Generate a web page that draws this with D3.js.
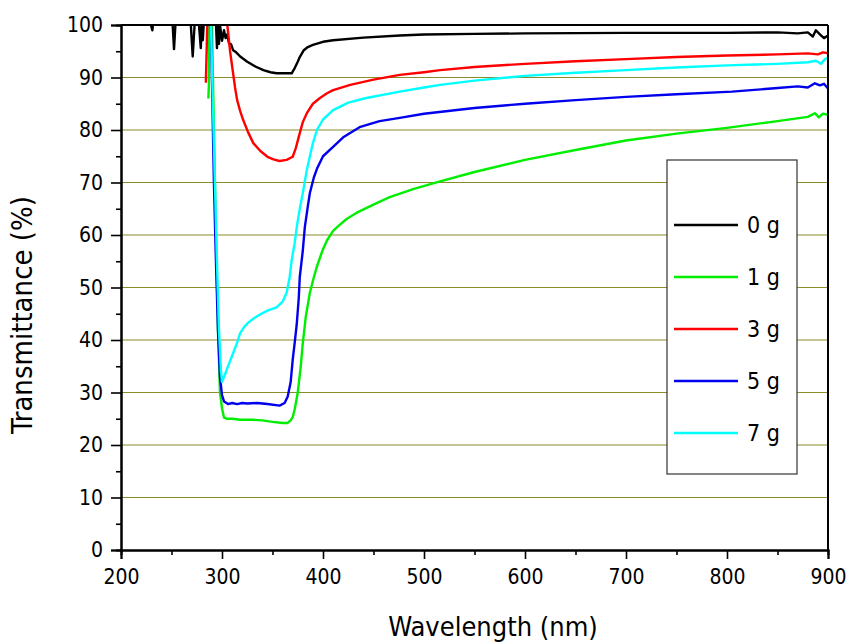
<!DOCTYPE html>
<html>
<head>
<meta charset="utf-8">
<script src="https://cdn.jsdelivr.net/npm/d3@7"></script>
<style>
  body { margin: 0; background: #fff; }
  text { font-family: "DejaVu Sans Condensed", "DejaVu Sans", sans-serif; }
</style>
</head>
<body>
<div id="chart"></div>
<script>
// data: [wavelength nm, transmittance %]
var xTicks = [200, 300, 400, 500, 600, 700, 800, 900];
var yTicks = [0, 10, 20, 30, 40, 50, 60, 70, 80, 90, 100];
var seriesNames = ["0 g", "1 g", "3 g", "5 g", "7 g"];
var seriesColors = ["#000000", "#00ee00", "#ff0000", "#0000ee", "#00ffff"];

var s0g = [[200,100.5],[229,100.5],[231,99],[232,100.5],[251,100.5],[252.5,95.4],[254,100.5],[269,100.5],[271,94],[273,100.5],
  [277,100.5],[279,95.6],[280,100.5],[281,97.1],[282,100.5],[294,100.5],[295,95.6],[296,100],[297,96.4],[298,100],[300,97],
  [302,99],[303.5,97.5],[305,98.2],[307,96.5],[309,96.3],[311,95.2],[314,94.8],[318,94],[325,93],[333,92.1],[341,91.4],
  [348,91],[354,90.8],[362,90.8],[369,90.8],[372,91.8],[375,93],[377,93.9],[381,95.2],[385,95.8],[390,96.2],[400,96.8],
  [410,97.1],[440,97.6],[476,98],[500,98.2],[550,98.3],[600,98.4],[700,98.5],[800,98.5],[850,98.6],[870,98.4],
  [880,98.6],[885,97.8],[888,99],[892,98.2],[896,97.5],[900,98]];

var s1g = [[286.5,86],[287,88.5],[287.5,100.5],[290,100.5],[292,80],[294,60],[296,42],[298,30],[300,27],[302,25.2],[305,25],
  [310,25],[318,24.8],[330,24.8],[340,24.7],[350,24.4],[360,24.2],[365,24.2],[368,24.7],[370,25.3],[372,26.8],[375,30],
  [378,35],[380,39.4],[383,44.5],[387,49],[391,52],[394,54],[399,56.8],[404,59],[410,60.8],[414,61.5],[423,63],[433,64.2],
  [450,65.8],[466,67.2],[490,68.8],[516,70.2],[550,72],[600,74.3],[650,76.2],[700,78],[750,79.3],[800,80.4],[850,81.7],
  [880,82.5],[887,83.2],[891,82.4],[895,83.1],[900,82.9]];

var s3g = [[284,89],[285.5,100.5],[305,100.5],[308,95],[311,90.8],[313,88],[315,85.7],[318,83.6],[321,81.9],[326,79.5],
  [331,77.5],[338,76],[345,74.9],[351,74.4],[357,74.1],[364,74.3],[370,74.9],[373,76.5],[377,79.4],[380,81.5],[384,83.2],
  [390,85],[397,86.1],[404,87],[410,87.6],[427,88.6],[450,89.6],[476,90.5],[500,91],[516,91.4],[550,92],[600,92.6],
  [650,93.1],[700,93.5],[750,93.9],[800,94.2],[850,94.4],[880,94.6],[890,94.4],[895,94.8],[900,94.6]];

var s5g = [[289,100.5],[290.5,85],[292,70],[294,55],[296,42],[298,33],[300,29.5],[302,28.3],[306,27.8],[310,28],[315,27.8],
  [320,28],[325,27.9],[335,28],[345,27.8],[357,27.5],[362,28],[365,29.2],[368,32],[370,36.2],[372,39.5],[374,43],[376,48],
  [377,52],[380,57],[382,61.5],[385,65.5],[387,68],[391,71],[394,72.6],[400,75],[410,76.8],[420,78.6],[437,80.6],
  [456,81.7],[476,82.3],[500,83.1],[550,84.2],[600,85],[650,85.7],[700,86.3],[750,86.8],[805,87.3],[850,88],[870,88.3],
  [880,88.1],[887,88.9],[892,88.5],[896,88.8],[900,87.9]];

var s7g = [[289,100.5],[291,85],[293,70],[295,55],[297,42],[299,34],[300,32],[302,33],[305,34.5],[310,37],[315,39.5],[318,41.3],
  [322,42.5],[326,43.3],[332,44.2],[338,44.9],[345,45.6],[354,46.2],[360,47.3],[364,49],[367,52],[369,55.2],[372,58.5],
  [374,61.5],[377,65],[380,68],[384,72.4],[387,75],[390,77.5],[394,80],[400,82],[410,83.8],[425,85.2],[443,86.1],
  [476,87.3],[500,88.1],[516,88.6],[550,89.4],[600,90.3],[650,90.9],[700,91.4],[750,91.9],[800,92.3],[850,92.6],
  [880,92.9],[888,93.2],[893,92.6],[897,93.5],[900,93.8]];

var seriesData = [s0g, s1g, s3g, s5g, s7g];

var margin = { top: 25, left: 121, right: 22, bottom: 93 },
    width = 850 - margin.left - margin.right,
    height = 643 - margin.top - margin.bottom;

var svg = d3.select("#chart")
  .append("svg")
  .attr("width", 850)
  .attr("height", 643)
  .append("g")
  .attr("transform", "translate(" + margin.left + "," + margin.top + ")");

var x = d3.scaleLinear().domain([200, 900]).range([0, width]);
var y = d3.scaleLinear().domain([0, 100]).range([height, 0]);

// grid
svg.selectAll(".grid")
  .data(yTicks.filter(function (d) { return d > 0 && d < 100; }))
  .enter().append("line")
  .attr("x1", 0).attr("x2", width)
  .attr("y1", function (d) { return y(d); })
  .attr("y2", function (d) { return y(d); })
  .attr("stroke", "#8c8c28")
  .attr("stroke-width", 1.2);

svg.append("clipPath").attr("id", "clip")
  .append("rect").attr("width", width).attr("height", height);

var line = d3.line()
  .x(function (d) { return x(d[0]); })
  .y(function (d) { return y(d[1]); });

svg.append("g").attr("clip-path", "url(#clip)")
  .selectAll("path")
  .data(seriesData)
  .enter().append("path")
  .attr("d", line)
  .attr("fill", "none")
  .attr("stroke", function (d, i) { return seriesColors[i]; })
  .attr("stroke-width", 2.4)
  .attr("stroke-linejoin", "round");

// axes
var minorX = d3.range(250, 900, 100);
var minorY = d3.range(5, 100, 10);

var xAxis = svg.append("g").attr("transform", "translate(0," + height + ")")
  .call(d3.axisBottom(x).tickValues(xTicks).tickSize(9).tickPadding(7).tickFormat(d3.format("d")));
svg.append("g").attr("transform", "translate(0," + height + ")")
  .call(d3.axisBottom(x).tickValues(minorX).tickSize(5).tickFormat(""));
var yAxis = svg.append("g")
  .call(d3.axisLeft(y).tickValues(yTicks).tickSize(10).tickPadding(8));
svg.append("g")
  .call(d3.axisLeft(y).tickValues(minorY).tickSize(5).tickFormat(""));

svg.selectAll(".domain").attr("stroke-width", 2);
svg.selectAll(".tick line").attr("stroke-width", 1.6);
svg.selectAll(".tick text").attr("font-size", 21).attr("fill", "#000");
xAxis.selectAll("text").attr("dy", "0.85em");

// frame top/right
svg.append("line").attr("x1", 0).attr("x2", width).attr("y1", 0).attr("y2", 0)
  .attr("stroke", "#000").attr("stroke-width", 2);
svg.append("line").attr("x1", width).attr("x2", width).attr("y1", 0).attr("y2", height)
  .attr("stroke", "#000").attr("stroke-width", 2);

// axis titles
svg.append("text")
  .attr("x", 372).attr("y", height + 86)
  .attr("text-anchor", "middle")
  .attr("font-family", "DejaVu Sans")
  .attr("font-size", 27)
  .text("Wavelength (nm)");

svg.append("text")
  .attr("transform", "translate(" + (-89) + "," + (315 - margin.top) + ") rotate(-90)")
  .attr("text-anchor", "middle")
  .attr("font-family", "Open Sans")
  .attr("font-size", 29)
  .text("Transmittance (%)");

// legend
var legend = svg.append("g").attr("transform", "translate(" + (667 - margin.left) + "," + (160 - margin.top) + ")");
legend.append("rect")
  .attr("width", 130).attr("height", 314)
  .attr("fill", "#fff").attr("stroke", "#333").attr("stroke-width", 1.2);

var rows = legend.selectAll(".row")
  .data(seriesNames)
  .enter().append("g")
  .attr("transform", function (d, i) { return "translate(0," + (65 + i * 52) + ")"; });
rows.append("line")
  .attr("x1", 7).attr("x2", 71)
  .attr("stroke", function (d, i) { return seriesColors[i]; })
  .attr("stroke-width", 2.5);
rows.append("text")
  .attr("x", 80).attr("dy", "0.35em")
  .attr("font-family", "Open Sans")
  .attr("font-size", 23)
  .text(function (d) { return d; });
</script>
</body>
</html>
